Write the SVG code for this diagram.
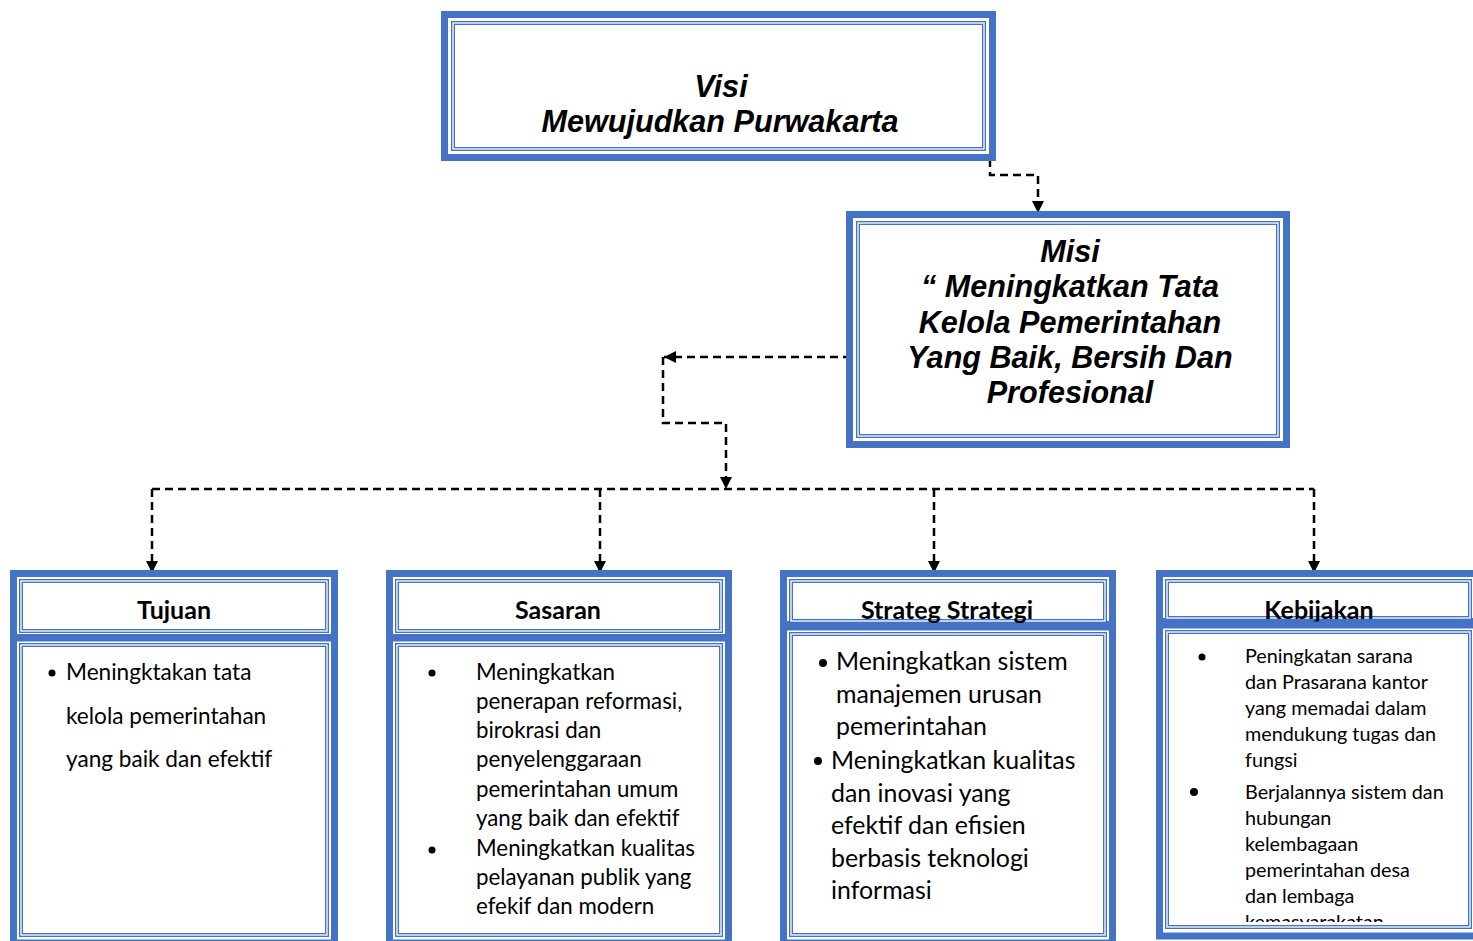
<svg xmlns="http://www.w3.org/2000/svg" width="1473" height="941" viewBox="0 0 1473 941">
<style>
.o{fill:#fff;stroke:#4472C4;stroke-width:7}
.i{fill:none;stroke:#4472C4;stroke-width:4}
.w{fill:none;stroke:#fff;stroke-width:1.3}
.big{font-family:"Liberation Sans",Arial,sans-serif;font-weight:bold;font-style:italic;font-size:30.6px;fill:#000;text-anchor:middle}
.hd{font-family:Lato,"Open Sans",sans-serif;font-weight:bold;font-size:25px;fill:#000;text-anchor:middle}
.bd{font-family:Lato,"Open Sans",sans-serif;fill:#000}
.c{fill:none;stroke:#000;stroke-width:2.5;stroke-dasharray:8 5}
</style>
<defs>
<marker id="ar" viewBox="0 0 12 12" markerWidth="12" markerHeight="13" markerUnits="userSpaceOnUse" refX="12" refY="6" orient="auto">
<path d="M0,0 L12,6 L0,12 z" fill="#000" stroke="none"/>
</marker>
<clipPath id="kclip"><rect x="1160" y="630" width="313" height="292"/></clipPath>
</defs>

<g id="connectors">
<path class="c" d="M990,133 V175 H1038 V213" marker-end="url(#ar)"/>
<path class="c" d="M851,357 H664" marker-end="url(#ar)"/>
<path class="c" d="M663,357 V423 H726 V489" marker-end="url(#ar)"/>
<path class="c" d="M152,489 H1314"/>
<path class="c" d="M152,489 V573" marker-end="url(#ar)"/>
<path class="c" d="M600,489 V573" marker-end="url(#ar)"/>
<path class="c" d="M934,489 V573" marker-end="url(#ar)"/>
<path class="c" d="M1314,489 V573" marker-end="url(#ar)"/>
</g>

<g id="visi">
<rect class="o" x="444.5" y="14.5" width="548" height="143"/>
<rect class="i" x="453" y="23" width="531" height="126"/>
<rect class="w" x="453" y="23" width="531" height="126"/>
<text class="big" x="721" y="97">Visi</text>
<text class="big" x="720" y="132">Mewujudkan Purwakarta</text>
</g>

<g id="misi">
<rect class="o" x="849.5" y="214.5" width="437" height="230"/>
<rect class="i" x="858" y="223" width="420" height="213"/>
<rect class="w" x="858" y="223" width="420" height="213"/>
<text class="big" x="1070" y="262">Misi</text>
<text class="big" x="1070" y="297">“ Meningkatkan Tata</text>
<text class="big" x="1070" y="333">Kelola Pemerintahan</text>
<text class="big" x="1070" y="368">Yang Baik, Bersih Dan</text>
<text class="big" x="1070" y="403">Profesional</text>
</g>

<g id="tujuan">
<rect class="o" x="13.5" y="573.5" width="321" height="64"/>
<rect class="i" x="21" y="581" width="306" height="50"/>
<rect class="w" x="21" y="581" width="306" height="50"/>
<text class="hd" x="174" y="619">Tujuan</text>
<rect class="o" x="13.5" y="638" width="321" height="305"/>
<rect class="i" x="21" y="645" width="306" height="290"/>
<rect class="w" x="21" y="645" width="306" height="290"/>
<circle cx="52" cy="673" r="3.5"/>
<g class="bd" font-size="22.6">
<text x="66" y="680">Meningktakan tata</text>
<text x="66" y="724">kelola pemerintahan</text>
<text x="66" y="767">yang baik dan efektif</text>
</g>
</g>

<g id="sasaran">
<rect class="o" x="389.5" y="573.5" width="339" height="64"/>
<rect class="i" x="397" y="581" width="324" height="50"/>
<rect class="w" x="397" y="581" width="324" height="50"/>
<text class="hd" x="558" y="619">Sasaran</text>
<rect class="o" x="389.5" y="638" width="339" height="305"/>
<rect class="i" x="397" y="645" width="324" height="290"/>
<rect class="w" x="397" y="645" width="324" height="290"/>
<circle cx="432" cy="673" r="3.5"/>
<circle cx="432" cy="850" r="3.5"/>
<g class="bd" font-size="22.3">
<text x="476" y="680">Meningkatkan</text>
<text x="476" y="709">penerapan reformasi,</text>
<text x="476" y="738">birokrasi dan</text>
<text x="476" y="767">penyelenggaraan</text>
<text x="476" y="797">pemerintahan umum</text>
<text x="476" y="826">yang baik dan efektif</text>
<text x="476" y="856">Meningkatkan kualitas</text>
<text x="476" y="885">pelayanan publik yang</text>
<text x="476" y="914">efekif dan modern</text>
</g>
</g>

<g id="strategi">
<rect class="o" x="783.5" y="573.5" width="329" height="51"/>
<rect class="i" x="791" y="581" width="314" height="40"/>
<rect class="w" x="791" y="581" width="314" height="40"/>
<text class="hd" x="947" y="619">Strateg Strategi</text>
<rect class="o" x="783.5" y="627" width="329" height="316"/>
<rect class="i" x="791" y="634" width="314" height="301"/>
<rect class="w" x="791" y="634" width="314" height="301"/>
<circle cx="823" cy="663" r="4"/>
<circle cx="818" cy="761" r="4"/>
<g class="bd" font-size="24.9">
<text x="836" y="670">Meningkatkan sistem</text>
<text x="836" y="703">manajemen urusan</text>
<text x="836" y="735">pemerintahan</text>
<text x="831" y="769">Meningkatkan kualitas</text>
<text x="831" y="802">dan inovasi yang</text>
<text x="831" y="834">efektif dan efisien</text>
<text x="831" y="867">berbasis teknologi</text>
<text x="831" y="899">informasi</text>
</g>
</g>

<g id="kebijakan">
<rect class="o" x="1159.5" y="573.5" width="320" height="48"/>
<rect class="i" x="1167" y="581" width="303" height="37"/>
<rect class="w" x="1167" y="581" width="303" height="37"/>
<text class="hd" x="1319" y="619">Kebijakan</text>
<rect class="o" x="1159.5" y="625" width="320" height="311"/>
<rect class="i" x="1167" y="632" width="303" height="295"/>
<rect class="w" x="1167" y="632" width="303" height="295"/>
<circle cx="1202" cy="657" r="3.5"/>
<circle cx="1194" cy="792" r="4"/>
<g class="bd" font-size="19.8" clip-path="url(#kclip)">
<text x="1245" y="663">Peningkatan sarana</text>
<text x="1245" y="689">dan Prasarana kantor</text>
<text x="1245" y="715">yang memadai dalam</text>
<text x="1245" y="741">mendukung tugas dan</text>
<text x="1245" y="767">fungsi</text>
<text x="1245" y="799">Berjalannya sistem dan</text>
<text x="1245" y="825">hubungan</text>
<text x="1245" y="851">kelembagaan</text>
<text x="1245" y="877">pemerintahan desa</text>
<text x="1245" y="903">dan lembaga</text>
<text x="1245" y="929">kemasyarakatan</text>
</g>
</g>
</svg>
